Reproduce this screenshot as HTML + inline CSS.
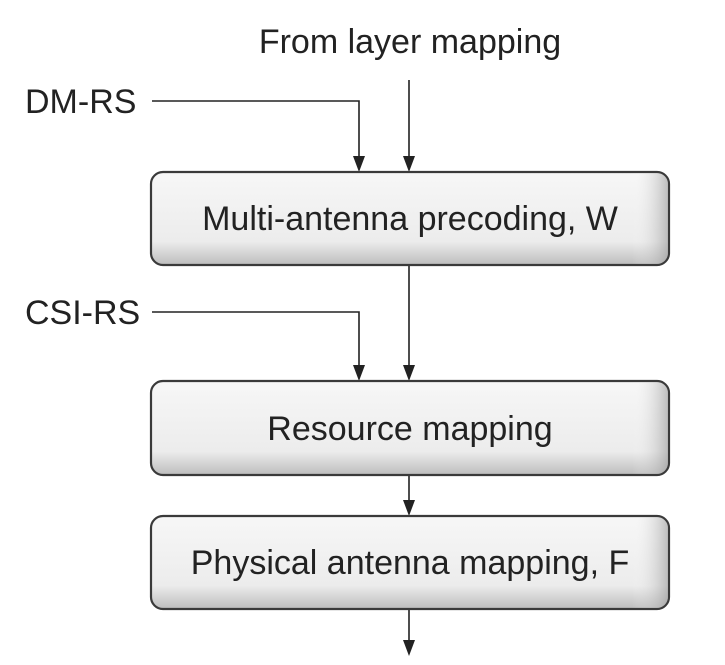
<!DOCTYPE html>
<html><head><meta charset="utf-8"><style>
html,body{margin:0;padding:0;background:#fff;}
svg{display:block;}
text{font-family:"Liberation Sans",sans-serif;font-size:34px;fill:#222;}
</style></head><body>
<svg width="725" height="665" viewBox="0 0 725 665" xmlns="http://www.w3.org/2000/svg">
<defs>
<linearGradient id="g" x1="0" y1="0" x2="0" y2="1">
<stop offset="0" stop-color="#f7f7f7"/>
<stop offset="0.75" stop-color="#ececec"/>
<stop offset="1" stop-color="#bdbdbd"/>
</linearGradient>
<linearGradient id="gr" x1="0" y1="0" x2="1" y2="0">
<stop offset="0.93" stop-color="#fff" stop-opacity="0"/>
<stop offset="1" stop-color="#999" stop-opacity="0.6"/>
</linearGradient>
</defs>
<g stroke="#222" stroke-width="1.6" fill="none">
<line x1="409" y1="80" x2="409" y2="158"/>
<polyline points="152,101 359,101 359,158"/>
<line x1="409" y1="266" x2="409" y2="367"/>
<polyline points="152,312 359,312 359,367"/>
<line x1="409" y1="476" x2="409" y2="500"/>
<line x1="409" y1="610" x2="409" y2="640"/>
</g>
<g fill="#222">
<path d="M353,156 L365,156 L359,172 Z"/>
<path d="M403,156 L415,156 L409,172 Z"/>
<path d="M353,365 L365,365 L359,381 Z"/>
<path d="M403,365 L415,365 L409,381 Z"/>
<path d="M403,500 L415,500 L409,516 Z"/>
<path d="M403,640 L415,640 L409,656 Z"/>
</g>
<g stroke="#3a3a3a" stroke-width="2.2">
<rect x="151" y="172" width="518" height="93" rx="12" fill="url(#g)"/>
<rect x="151" y="381" width="518" height="94" rx="12" fill="url(#g)"/>
<rect x="151" y="516" width="518" height="93" rx="12" fill="url(#g)"/>
</g>
<g>
<rect x="152" y="173" width="516" height="91" rx="11" fill="url(#gr)"/>
<rect x="152" y="382" width="516" height="92" rx="11" fill="url(#gr)"/>
<rect x="152" y="517" width="516" height="91" rx="11" fill="url(#gr)"/>
</g>
<text x="410" y="53" text-anchor="middle">From layer mapping</text>
<text x="25" y="113">DM-RS</text>
<text x="25" y="324">CSI-RS</text>
<text x="410" y="230" text-anchor="middle">Multi-antenna precoding, W</text>
<text x="410" y="440" text-anchor="middle">Resource mapping</text>
<text x="410" y="574" text-anchor="middle">Physical antenna mapping, F</text>
</svg>
</body></html>
